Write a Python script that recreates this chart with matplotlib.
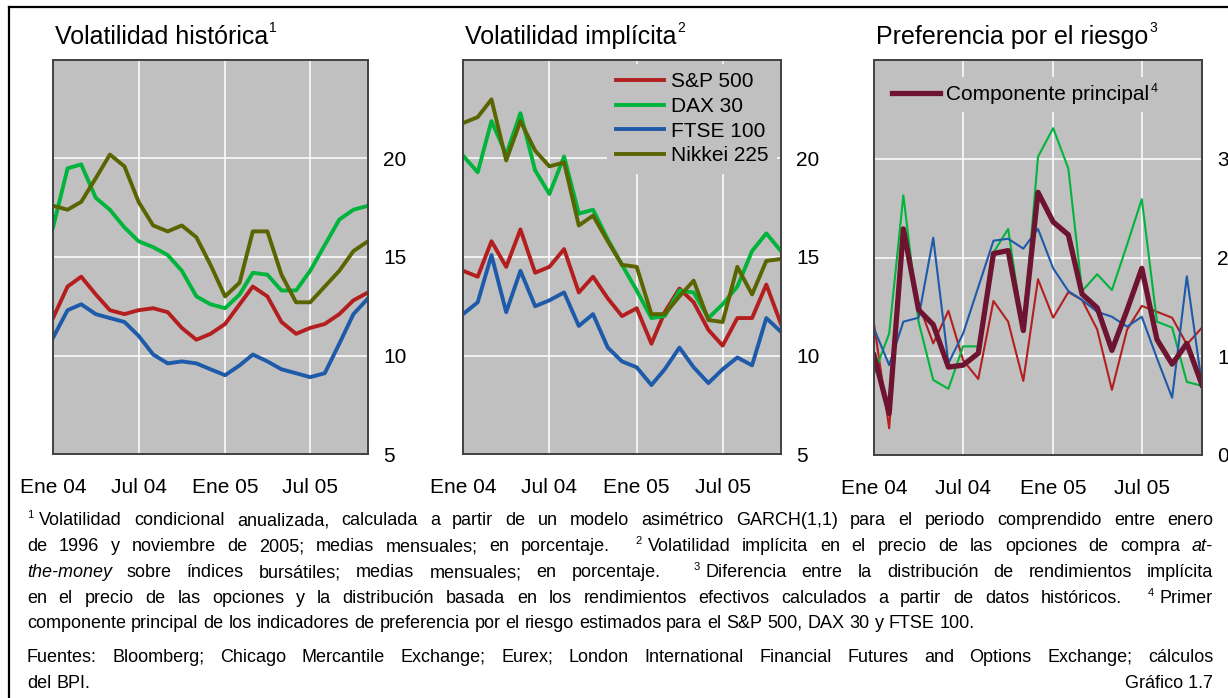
import numpy as np
import pandas as pd
import matplotlib
matplotlib.use('Agg')
import matplotlib.pyplot as plt
from matplotlib.lines import Line2D

plt.rcParams['font.family'] = ['Liberation Sans', 'DejaVu Sans']

# --- datos (medias mensuales, ene 2004 - nov 2005) ---
meses = pd.date_range('2004-01-01', periods=23, freq='MS')
fechas_x = pd.to_datetime(['2004-01-01', '2004-07-01', '2005-01-01', '2005-07-01'])
etiquetas_x = ['Ene 04', 'Jul 04', 'Ene 05', 'Jul 05']

nombres = ['S&P 500', 'DAX 30', 'FTSE 100', 'Nikkei 225']
colores = ['#B41E1E', '#00B43C', '#1E5AAA', '#5A6400']

hist_sp = [11.9, 13.5, 14.0, 13.1, 12.3, 12.1, 12.3, 12.4, 12.2, 11.4, 10.8, 11.1,
           11.6, 12.6, 13.5, 13.0, 11.7, 11.1, 11.4, 11.6, 12.1, 12.8, 13.2]
hist_dax = [16.5, 19.5, 19.7, 18.0, 17.4, 16.5, 15.8, 15.5, 15.1, 14.3, 13.0, 12.6,
            12.4, 13.1, 14.2, 14.1, 13.3, 13.3, 14.3, 15.6, 16.9, 17.4, 17.6]
hist_ftse = [10.9, 12.3, 12.6, 12.1, 11.9, 11.7, 11.0, 10.05, 9.6, 9.7, 9.6, 9.3,
             9.0, 9.5, 10.05, 9.7, 9.3, 9.1, 8.9, 9.1, 10.6, 12.1, 12.9]
hist_nikkei = [17.6, 17.4, 17.8, 19.0, 20.2, 19.6, 17.8, 16.6, 16.3, 16.6, 16.0, 14.6,
               13.0, 13.7, 16.3, 16.3, 14.1, 12.7, 12.7, 13.5, 14.3, 15.3, 15.8]

impl_sp = [14.3, 14.0, 15.8, 14.5, 16.4, 14.2, 14.5, 15.4, 13.2, 14.0, 12.9, 12.0,
           12.4, 10.6, 12.2, 13.4, 12.7, 11.3, 10.5, 11.9, 11.9, 13.6, 11.6]
impl_dax = [20.15, 19.3, 21.9, 20.2, 22.3, 19.4, 18.2, 20.1, 17.2, 17.4, 15.9, 14.6,
            13.3, 11.9, 12.0, 13.3, 13.2, 11.9, 12.6, 13.5, 15.3, 16.2, 15.3]
impl_ftse = [12.1, 12.7, 15.1, 12.2, 14.3, 12.5, 12.8, 13.2, 11.5, 12.1, 10.4, 9.7,
             9.4, 8.5, 9.3, 10.4, 9.4, 8.6, 9.3, 9.9, 9.5, 11.9, 11.2]
impl_nikkei = [21.8, 22.1, 23.0, 19.9, 21.9, 20.4, 19.6, 19.8, 16.6, 17.1, 15.8, 14.6,
               14.5, 12.1, 12.1, 13.0, 13.8, 11.8, 11.7, 14.5, 13.1, 14.8, 14.9]

riesgo_sp = [1.33, 0.27, 2.25, 1.53, 1.13, 1.46, 0.96, 0.77, 1.56, 1.35, 0.75, 1.78,
             1.39, 1.65, 1.57, 1.27, 0.66, 1.27, 1.51, 1.45, 1.39, 1.12, 1.29]
riesgo_dax = [0.82, 1.23, 2.63, 1.35, 0.76, 0.67, 1.10, 1.10, 2.05, 2.29, 1.25, 3.02,
              3.31, 2.90, 1.66, 1.83, 1.67, 2.13, 2.59, 1.35, 1.29, 0.74, 0.70]
riesgo_ftse = [1.28, 0.91, 1.35, 1.39, 2.20, 0.93, 1.23, 1.70, 2.17, 2.19, 2.09, 2.29,
               1.89, 1.66, 1.57, 1.45, 1.40, 1.30, 1.40, 0.98, 0.58, 1.81, 0.71]
riesgo_pc = [1.01, 0.42, 2.29, 1.47, 1.32, 0.89, 0.91, 1.03, 2.04, 2.07, 1.26, 2.66,
             2.36, 2.23, 1.63, 1.49, 1.06, 1.47, 1.89, 1.17, 0.92, 1.13, 0.71]

notas = [
    "^1 Volatilidad condicional anualizada, calculada a partir de un modelo asimétrico GARCH(1,1) para el periodo comprendido entre enero",
    "de 1996 y noviembre de 2005; medias mensuales; en porcentaje. ^2 Volatilidad implícita en el precio de las opciones de compra *at-*",
    "*the-money* sobre índices bursátiles; medias mensuales; en porcentaje. ^3 Diferencia entre la distribución de rendimientos implícita",
    "en el precio de las opciones y la distribución basada en los rendimientos efectivos calculados a partir de datos históricos. ^4 Primer",
    "componente principal de los indicadores de preferencia por el riesgo estimados para el S&P 500, DAX 30 y FTSE 100.",
]
fuentes = [
    "Fuentes: Bloomberg; Chicago Mercantile Exchange; Eurex; London International Financial Futures and Options Exchange; cálculos",
    "del BPI.",
]

W, H = 1228, 698
fig = plt.figure(figsize=(W / 100, H / 100), dpi=100)
renderer = fig.canvas.get_renderer()


def fx(px):
    return px / W


def fy(py):
    return 1 - py / H


def medir(t):
    return t.get_window_extent(renderer).width


def panel(izq, der, arriba, abajo, ylim, yticks):
    ax = fig.add_axes([fx(izq), fy(abajo), (der - izq) / W, (abajo - arriba) / H])
    ax.set_facecolor('#C0C0C0')
    ax.set_xlim(meses[0], meses[-1])
    ax.set_ylim(*ylim)
    ax.set_xticks(fechas_x)
    ax.set_xticklabels(etiquetas_x)
    ax.set_yticks(yticks)
    ax.yaxis.tick_right()
    ax.tick_params(axis='y', length=0, pad=11, labelsize=15)
    ax.tick_params(axis='x', length=0, pad=17, labelsize=15)
    ax.grid(True, color='white', lw=1.1)
    ax.set_axisbelow(True)
    for s in ax.spines.values():
        s.set_color('#404040')
        s.set_linewidth(1.4)
    return ax


def titulo(x, texto, sup):
    t = fig.text(fx(x), fy(44), texto, fontsize=18, va='baseline')
    w = medir(t)
    fig.text(fx(x + w + 1), fy(32), sup, fontsize=10, va='baseline')


# panel 1
ax1 = panel(53, 368, 60, 454, (5, 25), [5, 10, 15, 20])
for serie, c in zip([hist_sp, hist_dax, hist_ftse, hist_nikkei], colores):
    ax1.plot(meses, serie, color=c, lw=2.8)
titulo(55, 'Volatilidad histórica', '1')

# panel 2
ax2 = panel(463, 781, 60, 454, (5, 25), [5, 10, 15, 20])
for serie, c, n in zip([impl_sp, impl_dax, impl_ftse, impl_nikkei], colores, nombres):
    ax2.plot(meses, serie, color=c, lw=2.8, label=n)
ax2.legend(loc='upper right', bbox_to_anchor=(1, 1), borderaxespad=0.2, fontsize=15,
           handlelength=2.3, handletextpad=0.35, labelspacing=0.27,
           facecolor='#C0C0C0', edgecolor='none', framealpha=1, fancybox=False)
titulo(465, 'Volatilidad implícita', '2')

# panel 3
ax3 = panel(874, 1202, 60, 455, (0, 4), [0, 1, 2, 3])
ax3.plot(meses, riesgo_sp, color=colores[0], lw=1.5)
ax3.plot(meses, riesgo_dax, color=colores[1], lw=1.5)
ax3.plot(meses, riesgo_ftse, color=colores[2], lw=1.5)
ax3.plot(meses, riesgo_pc, color='#6E1430', lw=3.8, label='Componente principal')
leg3 = ax3.legend(loc='upper left', bbox_to_anchor=(0.03, 0.958), borderaxespad=0,
                  fontsize=15, handlelength=2.3, handletextpad=0.3,
                  facecolor='#C0C0C0', edgecolor='none', framealpha=1, fancybox=False)
titulo(876, 'Preferencia por el riesgo', '3')

# marco exterior
fig.add_artist(Line2D([fx(9), fx(W)], [fy(7), fy(7)], color='black', lw=1.6))
fig.add_artist(Line2D([fx(9), fx(9)], [fy(7), fy(H)], color='black', lw=1.6))


def crear(txt, estilo, size):
    kw = dict(fontsize=size, va='baseline', ha='left')
    if estilo == 's':
        kw['fontsize'] = size * 0.62
    if estilo == 'i':
        kw['style'] = 'italic'
    return fig.text(0, 0, txt, **kw)


def linea(texto, base, justificar=True, x0=27, x1=1213, size=13):
    grupos = []
    sup = None
    for tok in texto.split():
        if tok.startswith('^'):
            sup = tok[1:]
            continue
        estilo = 'n'
        if tok.startswith('*'):
            tok = tok.strip('*')
            estilo = 'i'
        piezas = []
        if sup:
            piezas.append((crear(sup, 's', size), 's'))
            sup = None
        piezas.append((crear(tok, estilo, size), estilo))
        grupos.append(piezas)
    anchos = []
    for g in grupos:
        anchos.append(sum(medir(a) + (6 if e == 's' else 0) for a, e in g))
    pesos = [2.2 if g[0][1] == 's' else 1 for g in grupos[1:]]
    if justificar:
        hueco = (x1 - x0 - sum(anchos)) / sum(pesos)
    else:
        hueco = size / 72 * 100 * 0.278
    x = x0
    for i, g in enumerate(grupos):
        if i > 0:
            x += hueco * pesos[i - 1]
        xx = x
        for a, e in g:
            dy = 7 if e == 's' else 0
            a.set_position((fx(xx), fy(base - dy)))
            xx += medir(a) + (6 if e == 's' else 0)
        x += anchos[i]


bases = [525, 551, 577, 603, 628]
for i, (t, b) in enumerate(zip(notas, bases)):
    linea(t, b, justificar=(i < len(notas) - 1))
linea(fuentes[0], 662)
linea(fuentes[1], 688, justificar=False)
fig.text(fx(1213), fy(688), 'Gráfico 1.7', fontsize=13, ha='right', va='baseline')

# superindice de la leyenda
fig.canvas.draw()
bb = leg3.get_texts()[0].get_window_extent(renderer)
fig.text(bb.x1 / W + 1 / W, (bb.y1 + 2) / H, '4', fontsize=9, va='top')

fig.savefig('out.png', dpi=100)
